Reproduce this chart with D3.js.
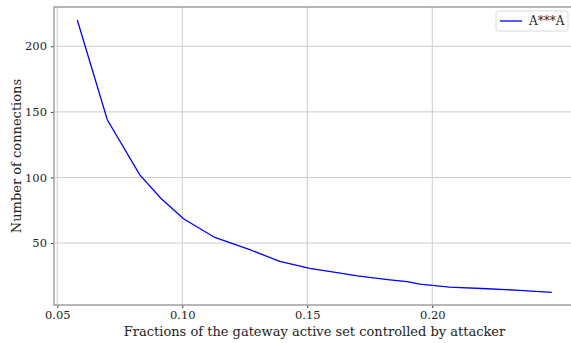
<!DOCTYPE html>
<html>
<head>
<meta charset="utf-8">
<script src="https://cdn.jsdelivr.net/npm/d3@7"></script>
<style>
  html, body { margin: 0; padding: 0; background: #fff; }
  svg { display: block; font-family: "DejaVu Serif", serif; }
</style>
</head>
<body>
<div id="chart"></div>
<script>
// Data
const fractions = [0.058, 0.070, 0.083, 0.0915, 0.1005, 0.113, 0.127, 0.139, 0.151, 0.160, 0.170, 0.183, 0.190, 0.195, 0.207, 0.222, 0.235, 0.2478];
const connections = [220, 144, 102, 84, 68.5, 54.3, 45, 36, 30.8, 28, 25, 22, 20.6, 18.7, 16.5, 15.2, 14, 12.5];
const seriesName = "A***A";
const xTicks = [0.05, 0.10, 0.15, 0.20];
const yTicks = [50, 100, 150, 200];
const xLabel = "Fractions of the gateway active set controlled by attacker";
const yLabel = "Number of connections";

const W = 571, H = 343;
const m = { left: 54, right: 575, top: 7, bottom: 305 };

const svg = d3.select("#chart").append("svg")
  .attr("width", W).attr("height", H);

const x = d3.scaleLinear().domain([0.04868, 0.2571]).range([m.left, m.right]);
const y = d3.scaleLinear().domain([2.8, 229.95]).range([m.bottom, m.top]);

// grid
const grid = svg.append("g");
grid.selectAll("line.gx").data(xTicks).join("line")
  .attr("x1", d => x(d)).attr("x2", d => x(d))
  .attr("y1", m.top).attr("y2", m.bottom)
  .attr("stroke", "#cccccc").attr("stroke-width", 1);
grid.selectAll("line.gy").data(yTicks).join("line")
  .attr("x1", m.left).attr("x2", m.right)
  .attr("y1", d => y(d)).attr("y2", d => y(d))
  .attr("stroke", "#cccccc").attr("stroke-width", 1);

// axes
const xAxis = d3.axisBottom(x).tickValues(xTicks).tickFormat(d3.format(".2f")).tickSizeInner(3).tickSizeOuter(0).tickPadding(3);
const yAxis = d3.axisLeft(y).tickValues(yTicks).tickFormat(d3.format("d")).tickSizeInner(3).tickSizeOuter(0).tickPadding(4);

const gx = svg.append("g").attr("transform", `translate(0,${m.bottom})`).call(xAxis);
const gy = svg.append("g").attr("transform", `translate(${m.left},0)`).call(yAxis);
[gx, gy].forEach(g => {
  g.attr("font-family", "DejaVu Serif").attr("font-size", 11.5);
  g.select(".domain").remove();
  g.selectAll(".tick line").attr("stroke", "#333");
  g.selectAll(".tick text").attr("fill", "#222");
});

// line
const line = d3.line().x((d, i) => x(fractions[i])).y(d => y(d));
svg.append("path").datum(connections)
  .attr("d", line).attr("fill", "none")
  .attr("stroke", "#0000ff").attr("stroke-width", 1.3);

// spines
svg.append("rect")
  .attr("x", m.left).attr("y", m.top)
  .attr("width", m.right - m.left).attr("height", m.bottom - m.top)
  .attr("fill", "none").attr("stroke", "#a6a6a6").attr("stroke-width", 1.6);

// labels
svg.append("text")
  .attr("x", (m.left + m.right) / 2).attr("y", 336)
  .attr("text-anchor", "middle").attr("fill", "#222")
  .style("font-size", "13px").text(xLabel);
svg.append("text")
  .attr("transform", `translate(21,${(m.top + m.bottom) / 2}) rotate(-90)`)
  .attr("text-anchor", "middle").attr("fill", "#222")
  .style("font-size", "13px").text(yLabel);

// legend
const lg = svg.append("g");
lg.append("rect").attr("x", 496).attr("y", 11).attr("width", 72).attr("height", 20)
  .attr("rx", 2.5).attr("fill", "#fff").attr("stroke", "#d9d9d9").attr("stroke-width", 1);
lg.append("line").attr("x1", 500).attr("x2", 522).attr("y1", 21).attr("y2", 21)
  .attr("stroke", "#0000ff").attr("stroke-width", 1.3);
lg.append("text").attr("x", 529).attr("y", 25).attr("fill", "#222")
  .style("font-size", "12px").text(seriesName);
</script>
</body>
</html>
